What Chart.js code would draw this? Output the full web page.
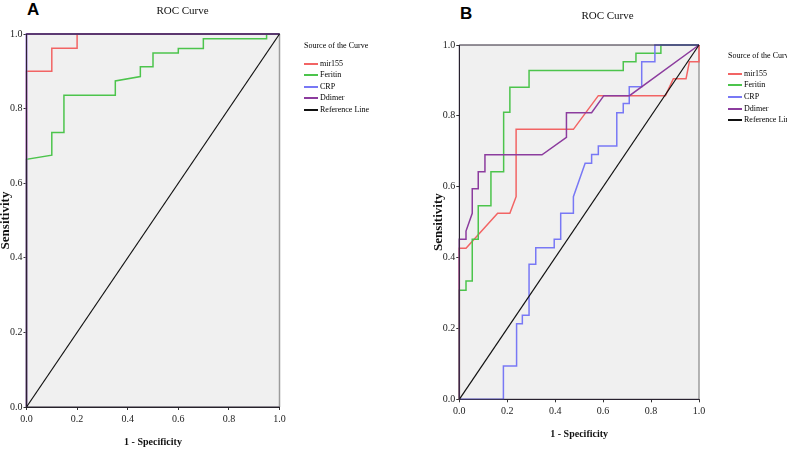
<!DOCTYPE html>
<html>
<head>
<meta charset="utf-8">
<script src="https://cdn.jsdelivr.net/npm/chart.js@4.4.0/dist/chart.umd.min.js"></script>
<style>
  body { margin: 0; background: #fff; width: 787px; height: 449px; position: relative; overflow: hidden; }
  canvas { position: absolute; top: 0; }
  #chartA { left: 0; }
  #chartB { left: 433px; }
  .tag { position: absolute; font-family: 'Liberation Sans', Arial, sans-serif; font-weight: bold; font-size: 17px; line-height: 17px; color: #000; }
  .legend { position: absolute; font-family: 'Liberation Serif', serif; font-size: 8px; line-height: 8px; color: #000; }
  .legend div { position: absolute; left: 0; white-space: nowrap; }
  .legend span { display: inline-block; width: 14px; height: 2px; vertical-align: middle; margin-right: 2px; }
</style>
</head>
<body>
<div class="tag" style="left:27px; top:1px;">A</div>
<div class="tag" style="left:460px; top:5px;">B</div>
<canvas id="chartA" width="365" height="449"></canvas>
<canvas id="chartB" width="349" height="449"></canvas>
<div class="legend" id="legendA" style="left:304px; top:42px;"></div>
<div class="legend" id="legendB" style="left:728px; top:52px;"></div>
<script>
// axis ticks (both panels)
const tickValues = [0, 0.2, 0.4, 0.6, 0.8, 1.0];
const seriesNames = ['mir155', 'Feritin', 'CRP', 'Ddimer', 'Reference Line'];
const seriesColors = ['#f26464', '#4cc44c', '#7878f5', '#8c3c9e', '#111111'];

// panel A  (1 - specificity, sensitivity)
const aMir155X = [0, 0, 0.1, 0.1, 0.2, 0.2, 1];
const aMir155Y = [0, 0.9, 0.9, 0.962, 0.962, 1, 1];
const aFeritinX = [0, 0, 0.1, 0.1, 0.148, 0.148, 0.351, 0.351, 0.45, 0.45, 0.5, 0.5, 0.6, 0.6, 0.699, 0.699, 0.949, 0.949, 1];
const aFeritinY = [0, 0.664, 0.675, 0.736, 0.736, 0.836, 0.836, 0.874, 0.886, 0.912, 0.912, 0.949, 0.949, 0.961, 0.961, 0.987, 0.987, 1, 1];
const aCrpX = [0, 0, 1];
const aCrpY = [0, 1, 1];
const aDdimerX = [0, 0, 1];
const aDdimerY = [0, 1, 1];

// panel B
const bMir155X = [0, 0, 0.028, 0.16, 0.211, 0.237, 0.237, 0.476, 0.58, 0.86, 0.893, 0.946, 0.96, 1, 1];
const bMir155Y = [0, 0.426, 0.426, 0.525, 0.525, 0.572, 0.762, 0.762, 0.857, 0.857, 0.905, 0.905, 0.953, 0.953, 1];
const bFeritinX = [0, 0, 0.028, 0.028, 0.054, 0.054, 0.079, 0.079, 0.132, 0.132, 0.185, 0.185, 0.211, 0.211, 0.291, 0.291, 0.684, 0.684, 0.737, 0.737, 0.841, 0.841, 1];
const bFeritinY = [0, 0.308, 0.308, 0.334, 0.334, 0.452, 0.452, 0.546, 0.546, 0.642, 0.642, 0.81, 0.81, 0.881, 0.881, 0.928, 0.928, 0.953, 0.953, 0.977, 0.977, 1, 1];
const bCrpX = [0, 0.184, 0.184, 0.239, 0.239, 0.263, 0.263, 0.291, 0.291, 0.319, 0.319, 0.396, 0.396, 0.423, 0.423, 0.476, 0.476, 0.525, 0.552, 0.552, 0.58, 0.58, 0.657, 0.657, 0.684, 0.684, 0.709, 0.709, 0.761, 0.761, 0.816, 0.816, 1];
const bCrpY = [0, 0, 0.094, 0.094, 0.213, 0.213, 0.237, 0.237, 0.381, 0.381, 0.428, 0.428, 0.452, 0.452, 0.525, 0.525, 0.572, 0.666, 0.666, 0.691, 0.691, 0.715, 0.715, 0.809, 0.809, 0.835, 0.835, 0.882, 0.882, 0.953, 0.953, 1, 1];
const bDdimerX = [0, 0, 0.028, 0.028, 0.054, 0.054, 0.079, 0.079, 0.107, 0.107, 0.345, 0.447, 0.447, 0.552, 0.603, 0.71, 1];
const bDdimerY = [0, 0.452, 0.452, 0.475, 0.525, 0.594, 0.594, 0.642, 0.642, 0.69, 0.69, 0.739, 0.809, 0.809, 0.857, 0.857, 1];

const refX = [0, 1];
const refY = [0, 1];

const serif = 'Liberation Serif';

function toPoints(xs, ys) {
  return xs.map((x, i) => ({x: x, y: ys[i]}));
}

// grey plot background + frame lines
const framePlugin = {
  id: 'frame',
  beforeDraw(chart) {
    const {ctx, chartArea: a} = chart;
    ctx.save();
    ctx.fillStyle = '#f0f0f0';
    ctx.fillRect(a.left, a.top, a.right - a.left, a.bottom - a.top);
    ctx.restore();
  },
  beforeDatasetsDraw(chart) {
    const {ctx, chartArea: a} = chart;
    ctx.save();
    ctx.lineWidth = 1.5;
    ctx.strokeStyle = '#9c9c9c';
    ctx.beginPath();
    ctx.moveTo(a.right, a.top);
    ctx.lineTo(a.right, a.bottom);
    ctx.stroke();
    ctx.restore();
  },
  afterDatasetsDraw(chart) {
    // dark axes sit on top of curves that run along the edges
    const {ctx, chartArea: a} = chart;
    ctx.save();
    ctx.lineWidth = 1;
    ctx.strokeStyle = '#2a2233';
    ctx.beginPath();
    ctx.moveTo(a.right, a.top);
    ctx.lineTo(a.left, a.top);
    ctx.lineTo(a.left, a.bottom);
    ctx.lineTo(a.right, a.bottom);
    ctx.stroke();
    ctx.restore();
  }
};

function axis(title, size, isY, fitSize) {
  return {
    type: 'linear',
    min: 0,
    max: 1,
    afterBuildTicks: s => { s.ticks = tickValues.map(v => ({value: v})); },
    afterFit: s => { if (isY) s.width = fitSize; else s.height = fitSize; },
    grid: {drawOnChartArea: false, drawTicks: true, tickLength: 3, color: '#333', lineWidth: 1},
    border: {display: true, color: '#222', width: 1},
    ticks: {
      callback: v => v.toFixed(1),
      font: {family: serif, size: 10},
      color: '#222',
      padding: isY ? 1 : 3,
      maxRotation: 0,
      autoSkip: false
    },
    title: {
      display: true,
      text: title,
      color: '#111',
      font: {family: serif, size: size, weight: 'bold', lineHeight: isY ? 0.8 : 1},
      padding: 0
    }
  };
}

// empty right-hand axis that only keeps room for the legend
function spacer(width) {
  return {
    type: 'linear',
    position: 'right',
    min: 0,
    max: 1,
    grid: {display: false},
    border: {display: false},
    ticks: {display: false},
    afterFit: s => { s.width = width; }
  };
}

function makeChart(id, series, cfg) {
  new Chart(document.getElementById(id), {
    type: 'scatter',
    data: {
      datasets: series.map((pts, i) => ({
        label: seriesNames[i],
        data: pts,
        showLine: true,
        borderColor: seriesColors[i],
        borderWidth: i === 4 ? 1.2 : 1.5,
        pointRadius: 0,
        tension: 0,
        fill: false,
        order: 4 - i,
        clip: 3
      }))
    },
    options: {
      responsive: false,
      animation: false,
      events: [],
      layout: {padding: {left: 0, top: 0, right: 0, bottom: cfg.bottom}},
      plugins: {
        legend: {display: false},
        tooltip: {enabled: false},
        title: {
          display: true,
          text: 'ROC Curve',
          color: '#111',
          font: {family: serif, size: 11, weight: 'normal'},
          padding: {top: cfg.titleTop, bottom: cfg.titleBottom}
        }
      },
      scales: {
        x: axis('1 - Specificity', 10, false, cfg.xHeight),
        y: axis('Sensitivity', 13, true, cfg.yWidth),
        side: spacer(cfg.right)
      }
    },
    plugins: [framePlugin]
  });
}

function makeLegend(id, rowGap) {
  const box = document.getElementById(id);
  let html = '<div style="top:0">Source of the Curve</div>';
  seriesNames.forEach((name, i) => {
    html += '<div style="top:' + Math.round(17.6 + i * rowGap) + 'px"><span style="background:' + seriesColors[i] + '"></span>' + name + '</div>';
  });
  box.innerHTML = html;
}

makeChart('chartA', [
  toPoints(aMir155X, aMir155Y),
  toPoints(aFeritinX, aFeritinY),
  toPoints(aCrpX, aCrpY),
  toPoints(aDdimerX, aDdimerY),
  toPoints(refX, refY)
], {right: 85.5, bottom: 2, titleTop: 4.4, titleBottom: 16.4, xHeight: 40, yWidth: 26.5});

makeChart('chartB', [
  toPoints(bMir155X, bMir155Y),
  toPoints(bFeritinX, bFeritinY),
  toPoints(bCrpX, bCrpY),
  toPoints(bDdimerX, bDdimerY),
  toPoints(refX, refY)
], {right: 83, bottom: 10, titleTop: 9.4, titleBottom: 22.4, xHeight: 39.7, yWidth: 26.3});

makeLegend('legendA', 11.5);
makeLegend('legendB', 11.65);
</script>
</body>
</html>
